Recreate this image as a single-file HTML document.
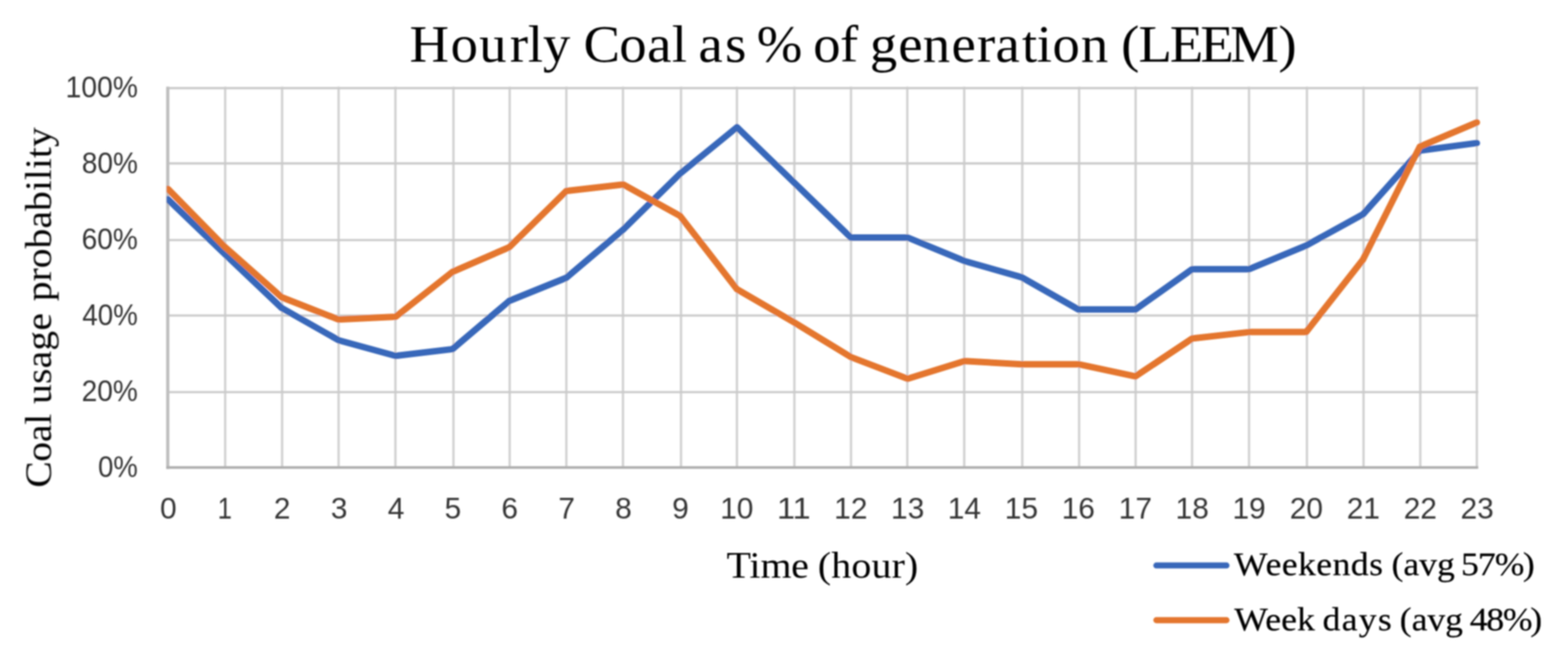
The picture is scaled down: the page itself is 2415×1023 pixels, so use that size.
<!DOCTYPE html>
<html lang="en">
<head>
<meta charset="utf-8">
<title>Hourly Coal as % of generation (LEEM)</title>
<style>
html,body{margin:0;padding:0;background:#fff;}
body{width:2415px;height:1023px;overflow:hidden;}
svg{display:block;}
.serif{font-family:"Liberation Serif",serif;fill:#000000;}
.bold{stroke:#000;stroke-width:0.3px;stroke-linejoin:round;}
.sans{font-family:"Liberation Sans",sans-serif;fill:#353535;}
</style>
</head>
<body>
<svg width="2415" height="1023" viewBox="0 0 2415 1023">
<defs><filter id="soft" x="-2%" y="-2%" width="104%" height="104%"><feGaussianBlur stdDeviation="1.0"/></filter><filter id="softt" x="-5%" y="-5%" width="110%" height="110%"><feGaussianBlur stdDeviation="0.9"/></filter><clipPath id="pc"><rect x="256.6" y="100" width="2100" height="640"/></clipPath></defs>
<rect width="2415" height="1023" fill="#ffffff"/>
<g filter="url(#soft)">
<g stroke="#cacaca" stroke-width="3.4" fill="none">
<line x1="346.8" y1="133.6" x2="346.8" y2="720.3" stroke="#d1d1d1" stroke-width="3.6"/>
<line x1="434.5" y1="133.6" x2="434.5" y2="720.3" stroke="#d1d1d1" stroke-width="3.6"/>
<line x1="521.5" y1="133.6" x2="521.5" y2="720.3" stroke="#d1d1d1" stroke-width="3.6"/>
<line x1="609.0" y1="133.6" x2="609.0" y2="720.3" stroke="#d1d1d1" stroke-width="3.6"/>
<line x1="698.4" y1="133.6" x2="698.4" y2="720.3" stroke="#d1d1d1" stroke-width="3.6"/>
<line x1="785.0" y1="133.6" x2="785.0" y2="720.3" stroke="#d1d1d1" stroke-width="3.6"/>
<line x1="872.3" y1="133.6" x2="872.3" y2="720.3" stroke="#d1d1d1" stroke-width="3.6"/>
<line x1="959.5" y1="133.6" x2="959.5" y2="720.3" stroke="#d1d1d1" stroke-width="3.6"/>
<line x1="1048.9" y1="133.6" x2="1048.9" y2="720.3" stroke="#d1d1d1" stroke-width="3.6"/>
<line x1="1135.0" y1="133.6" x2="1135.0" y2="720.3" stroke="#d1d1d1" stroke-width="3.6"/>
<line x1="1223.5" y1="133.6" x2="1223.5" y2="720.3" stroke="#d1d1d1" stroke-width="3.6"/>
<line x1="1310.7" y1="133.6" x2="1310.7" y2="720.3" stroke="#d1d1d1" stroke-width="3.6"/>
<line x1="1397.4" y1="133.6" x2="1397.4" y2="720.3" stroke="#d1d1d1" stroke-width="3.6"/>
<line x1="1485.1" y1="133.6" x2="1485.1" y2="720.3" stroke="#d1d1d1" stroke-width="3.6"/>
<line x1="1574.5" y1="133.6" x2="1574.5" y2="720.3" stroke="#d1d1d1" stroke-width="3.6"/>
<line x1="1662.0" y1="133.6" x2="1662.0" y2="720.3" stroke="#d1d1d1" stroke-width="3.6"/>
<line x1="1749.1" y1="133.6" x2="1749.1" y2="720.3" stroke="#d1d1d1" stroke-width="3.6"/>
<line x1="1836.0" y1="133.6" x2="1836.0" y2="720.3" stroke="#d1d1d1" stroke-width="3.6"/>
<line x1="1923.7" y1="133.6" x2="1923.7" y2="720.3" stroke="#d1d1d1" stroke-width="3.6"/>
<line x1="2012.9" y1="133.6" x2="2012.9" y2="720.3" stroke="#d1d1d1" stroke-width="3.6"/>
<line x1="2100.1" y1="133.6" x2="2100.1" y2="720.3" stroke="#d1d1d1" stroke-width="3.6"/>
<line x1="2187.5" y1="133.6" x2="2187.5" y2="720.3" stroke="#d1d1d1" stroke-width="3.6"/>
<line x1="2274.6" y1="133.6" x2="2274.6" y2="720.3" stroke="#d1d1d1" stroke-width="3.6"/>
<line x1="258.6" y1="135.7" x2="2276.7" y2="135.7"/>
<line x1="258.6" y1="251.8" x2="2276.7" y2="251.8"/>
<line x1="258.6" y1="369.9" x2="2276.7" y2="369.9"/>
<line x1="258.6" y1="486.1" x2="2276.7" y2="486.1"/>
<line x1="258.6" y1="604.1" x2="2276.7" y2="604.1"/>
</g>
<g stroke="#bfbfbf" stroke-width="5" fill="none">
<line x1="258.4" y1="133.6" x2="258.4" y2="722.5"/>
<line x1="256.1" y1="720.3" x2="2276.7" y2="720.3" stroke-width="4.0" stroke="#adadad"/>
</g>
<polyline points="258.6,307.0 346.3,391.5 433.9,474.5 521.6,524.2 609.2,548.3 696.9,537.9 784.5,463.5 872.2,428.0 959.8,353.8 1047.5,267.5 1135.1,196.0 1222.8,281.0 1310.4,366.0 1398.1,366.0 1485.7,402.2 1573.4,427.1 1661.0,476.8 1748.7,476.8 1836.3,414.7 1924.0,414.7 2011.6,378.3 2099.3,330.2 2186.9,232.0 2274.6,220.4" fill="none" stroke="#3867ba" stroke-width="10" stroke-linejoin="round" stroke-linecap="round" clip-path="url(#pc)"/>
<polyline points="258.6,291.0 346.3,380.4 433.9,458.0 521.6,492.3 609.2,488.1 696.9,418.8 784.5,380.8 872.2,294.2 959.8,284.2 1047.5,332.7 1135.1,445.7 1222.8,496.5 1310.4,550.1 1398.1,583.6 1485.7,556.3 1573.4,561.2 1661.0,561.2 1748.7,579.9 1836.3,521.5 1924.0,511.6 2011.6,511.6 2099.3,399.8 2186.9,225.8 2274.6,188.6" fill="none" stroke="#e4762d" stroke-width="10" stroke-linejoin="round" stroke-linecap="round" clip-path="url(#pc)"/>
<line x1="1781" y1="871.2" x2="1889" y2="871.2" stroke="#3867ba" stroke-width="9.3" stroke-linecap="round"/>
<line x1="1781" y1="955.5" x2="1889" y2="955.5" stroke="#e4762d" stroke-width="9.3" stroke-linecap="round"/>
</g>
<g filter="url(#softt)">
<text class="serif" font-size="81" transform="translate(0 94.50) scale(1.0409 1)" x="605.9 666.7 709.1 754.4 781.0 803.3 845.2 863.5 916.2 957.6 994.0 1016.4 1033.4 1072.9 1103.1 1119.8 1186.2 1203.2 1243.0 1271.6 1287.2 1329.1 1365.3 1407.9 1445.7 1473.0 1512.1 1534.0 1557.4 1599.4 1640.2 1658.8 1684.6 1731.0 1776.1 1820.2 1891.6">Hourly Coal as % of generation (LEEM)</text>
<text class="serif" font-size="58" transform="translate(0 889.70) scale(1.0617 1)" x="1054.0 1087.1 1103.1 1147.8 1174.6 1186.3 1205.8 1235.0 1264.2 1293.4 1312.8">Time (hour)</text>
<text class="serif" font-size="58" transform="translate(78.40 0) rotate(-90) scale(1.0523 1)" x="-714.1 -675.9 -647.2 -621.8 -603.8 -591.3 -562.1 -539.3 -513.4 -484.1 -456.8 -441.1 -412.0 -392.7 -363.7 -334.6 -308.9 -279.8 -263.7 -247.6 -231.4 -215.3">Coal usage probability</text>
<text class="serif bold" font-size="51" transform="translate(0 886.00) scale(1.0745 1)" x="1768.7 1814.0 1837.3 1860.6 1886.8 1910.1 1936.3 1962.5 1984.0 1994.7 2011.7 2034.3 2059.7 2087.0 2094.3 2118.5 2142.6 2182.8">Weekends (avg 57%)</text>
<text class="serif bold" font-size="51" transform="translate(0 970.50) scale(1.0745 1)" x="1769.2 1813.6 1836.4 1859.2 1887.6 1895.8 1923.3 1947.7 1975.2 1997.4 2006.4 2023.4 2046.0 2071.4 2098.7 2106.9 2130.6 2154.2 2193.7">Week days (avg 48%)</text>
<text class="sans" font-size="46" transform="translate(246.40 799.30) scale(1.0000 1.0000)">0</text>
<text class="sans" font-size="46" transform="translate(335.32 799.30) scale(0.8595 1.0000)">1</text>
<text class="sans" font-size="46" transform="translate(421.70 799.30) scale(1.0000 1.0000)">2</text>
<text class="sans" font-size="46" transform="translate(509.43 799.30) scale(1.0000 1.0000)">3</text>
<text class="sans" font-size="46" transform="translate(597.16 799.30) scale(1.0000 1.0000)">4</text>
<text class="sans" font-size="46" transform="translate(684.73 799.30) scale(1.0000 1.0000)">5</text>
<text class="sans" font-size="46" transform="translate(772.16 799.30) scale(1.0000 1.0000)">6</text>
<text class="sans" font-size="46" transform="translate(859.96 799.30) scale(1.0000 1.0000)">7</text>
<text class="sans" font-size="46" transform="translate(947.61 799.30) scale(1.0000 1.0000)">8</text>
<text class="sans" font-size="46" transform="translate(1035.27 799.30) scale(1.0000 1.0000)">9</text>
<text class="sans" font-size="46" transform="translate(1109.27 799.30) scale(1.0000 1.0000)">10</text>
<text class="sans" font-size="46" transform="translate(1196.80 799.30) scale(1.0830 1.0000)">11</text>
<text class="sans" font-size="46" transform="translate(1284.81 799.30) scale(1.0000 1.0000)">12</text>
<text class="sans" font-size="46" transform="translate(1372.30 799.30) scale(1.0000 1.0000)">13</text>
<text class="sans" font-size="46" transform="translate(1459.65 799.30) scale(1.0000 1.0000)">14</text>
<text class="sans" font-size="46" transform="translate(1547.61 799.30) scale(1.0000 1.0000)">15</text>
<text class="sans" font-size="46" transform="translate(1635.26 799.30) scale(1.0000 1.0000)">16</text>
<text class="sans" font-size="46" transform="translate(1723.07 799.30) scale(1.0000 1.0000)">17</text>
<text class="sans" font-size="46" transform="translate(1810.57 799.30) scale(1.0000 1.0000)">18</text>
<text class="sans" font-size="46" transform="translate(1898.29 799.30) scale(1.0000 1.0000)">19</text>
<text class="sans" font-size="46" transform="translate(1986.41 799.30) scale(1.0000 1.0000)">20</text>
<text class="sans" font-size="46" transform="translate(2074.29 799.30) scale(1.0000 1.0000)">21</text>
<text class="sans" font-size="46" transform="translate(2161.94 799.30) scale(1.0000 1.0000)">22</text>
<text class="sans" font-size="46" transform="translate(2249.44 799.30) scale(1.0000 1.0000)">23</text>
<text class="sans" font-size="45.5" transform="translate(101.06 150.00) scale(0.9567 1.0000)">100%</text>
<text class="sans" font-size="45.5" transform="translate(125.93 267.10) scale(0.9496 1.0000)">80%</text>
<text class="sans" font-size="45.5" transform="translate(125.63 383.80) scale(0.9529 1.0000)">60%</text>
<text class="sans" font-size="45.5" transform="translate(126.80 500.80) scale(0.9398 1.0000)">40%</text>
<text class="sans" font-size="45.5" transform="translate(125.63 617.60) scale(0.9529 1.0000)">20%</text>
<text class="sans" font-size="45.5" transform="translate(151.00 735.20) scale(0.9337 1.0000)">0%</text>
</g>
</svg>
</body>
</html>
